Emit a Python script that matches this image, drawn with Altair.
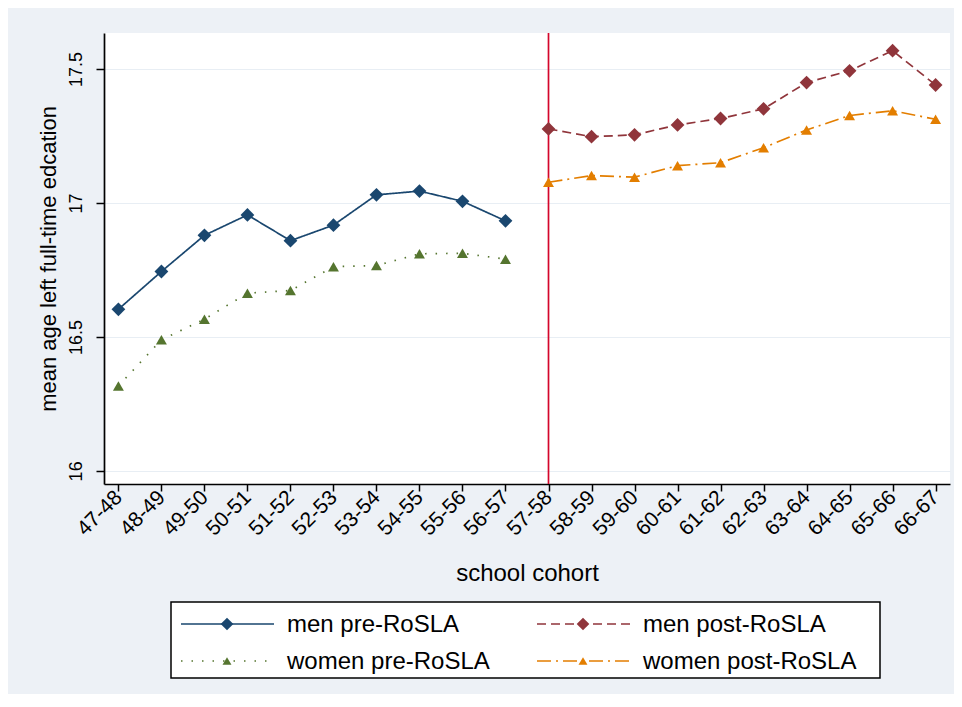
import altair as alt
import pandas as pd

# ---- data ----
cohorts = ["47-48", "48-49", "49-50", "50-51", "51-52", "52-53", "53-54", "54-55",
           "55-56", "56-57", "57-58", "58-59", "59-60", "60-61", "61-62", "62-63",
           "63-64", "64-65", "65-66", "66-67"]
pre_cohorts = cohorts[:10]
post_cohorts = cohorts[10:]

men_pre = [16.603, 16.744, 16.879, 16.955, 16.859, 16.917, 17.030, 17.044, 17.006, 16.933]
women_pre = [16.317, 16.489, 16.566, 16.663, 16.673, 16.762, 16.766, 16.810, 16.812, 16.790]
men_post = [17.276, 17.247, 17.254, 17.291, 17.315, 17.351, 17.449, 17.493, 17.568, 17.440]
women_post = [17.077, 17.102, 17.096, 17.139, 17.150, 17.206, 17.272, 17.326, 17.344, 17.312]

cutoff = ["57-58"]
y_ticks = [16, 16.5, 17, 17.5]

series_names = ["men pre-RoSLA", "women pre-RoSLA", "men post-RoSLA", "women post-RoSLA"]

# ---- styles ----
series_colors = ["#1a476f", "#55752f", "#90353b", "#e37e00"]
series_dashes = [[1, 0], [1.5, 9], [9, 5], [14, 5, 2, 5]]
FONT = "Liberation Sans"

rows = []
for name, cats, vals in [
    (series_names[0], pre_cohorts, men_pre),
    (series_names[1], pre_cohorts, women_pre),
    (series_names[2], post_cohorts, men_post),
    (series_names[3], post_cohorts, women_post),
]:
    for c, v in zip(cats, vals):
        rows.append({"cohort": c, "value": v, "series": name})
df = pd.DataFrame(rows)

xscale = alt.Scale(domain=cohorts, type="point", padding=0.335)
yscale = alt.Scale(domain=[15.951, 17.634], nice=False, zero=False)

X = alt.X("cohort:O", scale=xscale,
          axis=alt.Axis(title="school cohort", labelAngle=315, labelAlign="right",
                        labelBaseline="middle", labelPadding=3, tickSize=7, grid=False,
                        titleY=89, titleBaseline="middle", labelFontSize=21,
                        titleFontSize=24, labelFont=FONT, titleFont=FONT,
                        titleFontWeight="normal", labelColor="#000", titleColor="#000",
                        domainColor="#000", tickColor="#000", domainWidth=1.7, tickWidth=1.5))
Y = alt.Y("value:Q", scale=yscale,
          axis=alt.Axis(values=y_ticks, format=".1~f", labelAngle=270, labelAlign="center",
                        labelBaseline="bottom", labelPadding=11, tickSize=8,
                        title="mean age left full-time edcation", titleAngle=270,
                        titleX=-56, titleBaseline="middle", titleFontSize=22,
                        labelFontSize=18, labelFont=FONT, titleFont=FONT,
                        titleFontWeight="normal", labelColor="#000", titleColor="#000",
                        grid=True, gridColor="#e8eef4", gridWidth=1.2,
                        domainColor="#000", tickColor="#000", domainWidth=1.7, tickWidth=1.5))

color = alt.Color("series:N", scale=alt.Scale(domain=series_names, range=series_colors), legend=None)
dash = alt.StrokeDash("series:N", scale=alt.Scale(domain=series_names, range=series_dashes), legend=None)

base = alt.Chart(df)

rule = alt.Chart(pd.DataFrame({"cohort": cutoff})).mark_rule(
    color="#d4062b", strokeWidth=1.7).encode(x=alt.X("cohort:O", scale=xscale))

lines = base.mark_line(strokeWidth=1.7).encode(x=X, y=Y, color=color, strokeDash=dash)

diamonds = base.transform_filter(
    alt.FieldOneOfPredicate(field="series", oneOf=[series_names[0], series_names[2]])
).mark_point(shape="diamond", filled=True, opacity=1, size=190).encode(
    x=alt.X("cohort:O", scale=xscale), y=alt.Y("value:Q", scale=yscale), color=color)

triangles = base.transform_filter(
    alt.FieldOneOfPredicate(field="series", oneOf=[series_names[1], series_names[3]])
).mark_point(shape="triangle-up", filled=True, opacity=1, size=120).encode(
    x=alt.X("cohort:O", scale=xscale), y=alt.Y("value:Q", scale=yscale), color=color)

# ---- legend (drawn below the plot area) ----
one = alt.Data(values=[{"k": 1}])
legend_layers = [
    alt.Chart(one).mark_rect(fill="white", stroke="#000", strokeWidth=1.5).encode(
        x=alt.value(67), x2=alt.value(776), y=alt.value(569), y2=alt.value(645))
]
leg_shapes = ["diamond", "triangle-up", "diamond", "triangle-up"]
leg_sizes = [160, 80, 160, 80]
leg_pos = [(0, 0), (0, 1), (1, 0), (1, 1)]
for i, name in enumerate(series_names):
    col, row = leg_pos[i]
    lx0 = 77 + col * 356
    lx1 = 170 + col * 356
    lxm = 123 + col * 356
    lxt = 183 + col * 356
    ly = 591 + row * 37
    d = alt.Data(values=[{"label": name}])
    legend_layers.append(alt.Chart(d).mark_rule(strokeWidth=1.7).encode(
        x=alt.value(lx0), x2=alt.value(lx1), y=alt.value(ly),
        color=alt.value(series_colors[i]), strokeDash=alt.value(series_dashes[i])))
    legend_layers.append(alt.Chart(d).mark_point(
        shape=leg_shapes[i], filled=True, opacity=1, size=leg_sizes[i]).encode(
        x=alt.value(lxm), y=alt.value(ly), color=alt.value(series_colors[i])))
    legend_layers.append(alt.Chart(d).mark_text(
        align="left", baseline="middle", font=FONT, fontSize=24, color="#000").encode(
        x=alt.value(lxt), y=alt.value(ly + 1), text="label:N"))

chart = alt.layer(rule, lines, diamonds, triangles, *legend_layers).properties(
    width=846, height=451,
    autosize=alt.AutoSizeParams(type="none"),
    padding={"left": 96, "top": 25, "right": 4, "bottom": 210},
    background="#edf1f6",
).configure_view(fill="white", strokeWidth=0)

chart.save("out.html", embed_options={"renderer": "svg", "actions": False})
